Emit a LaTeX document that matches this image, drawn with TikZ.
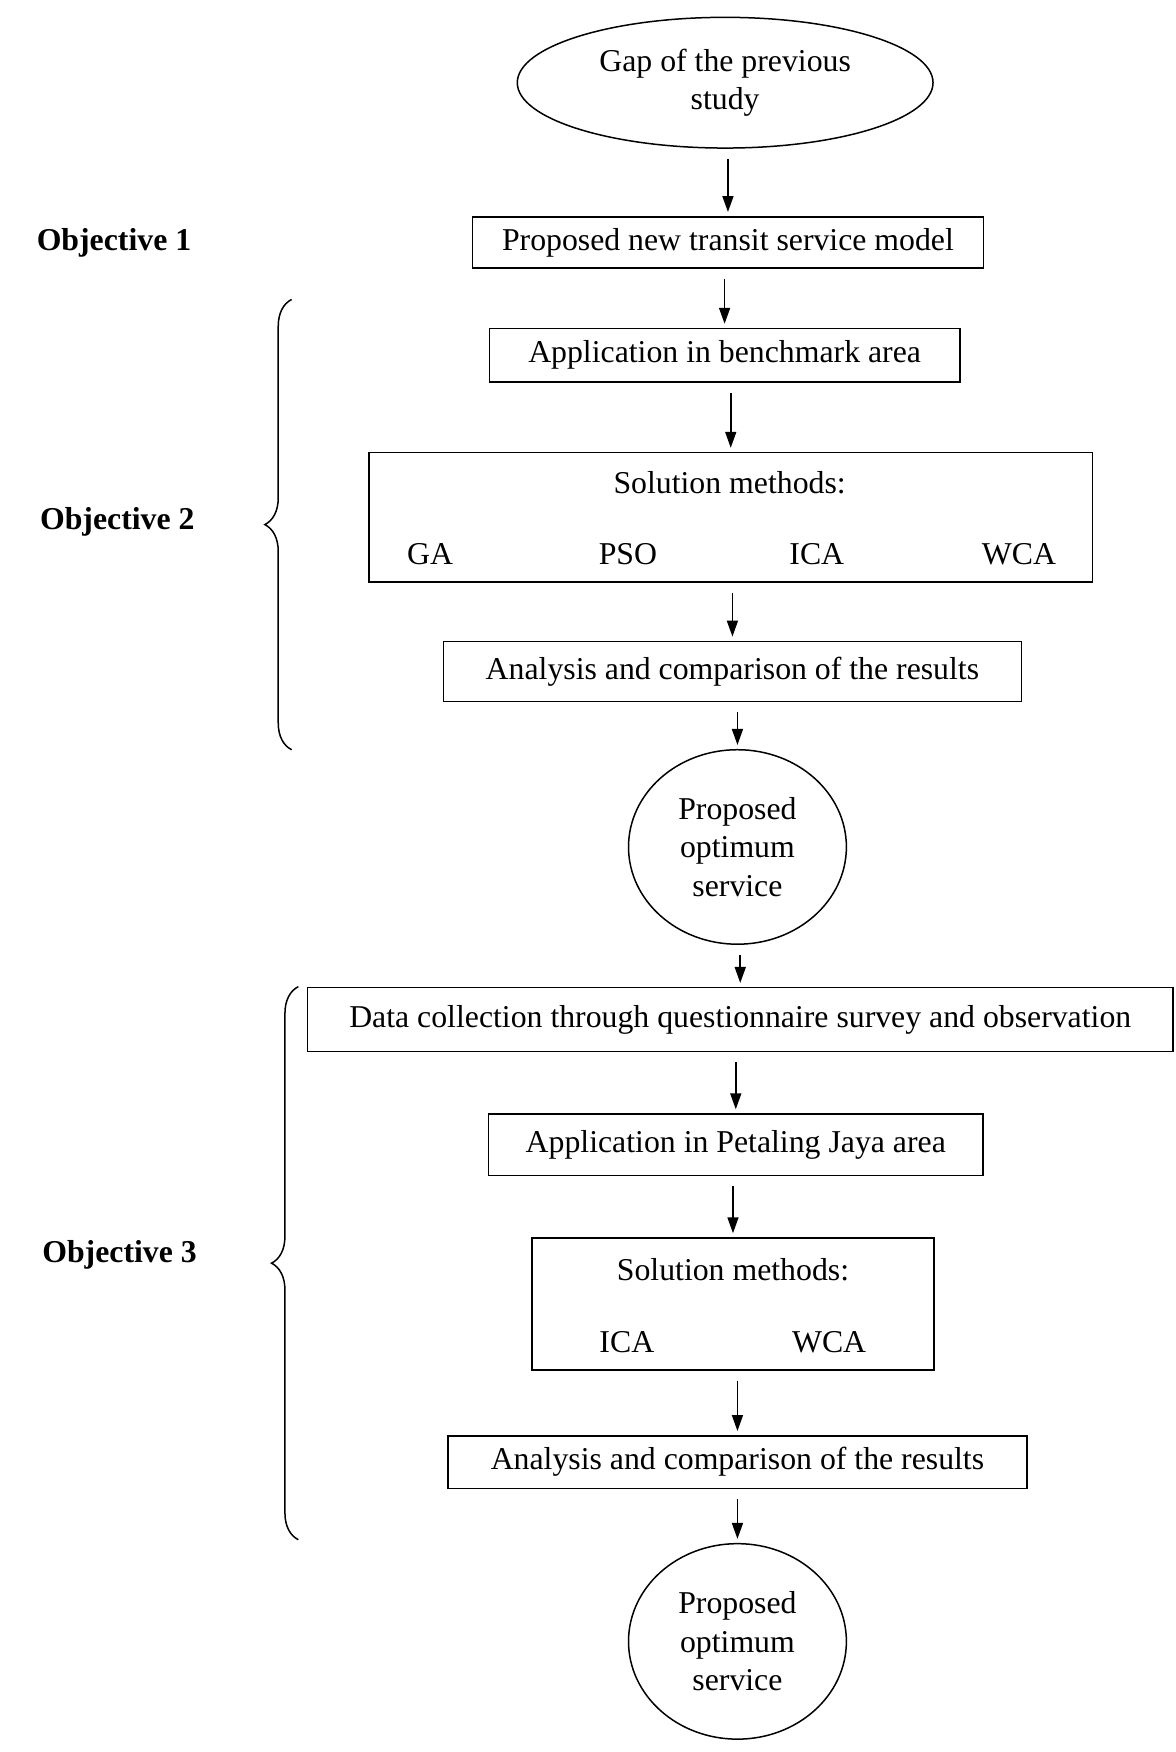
\documentclass[tikz,border=0pt]{standalone}
\usepackage{fontspec}
\setmainfont{Liberation Serif}
\usetikzlibrary{arrows.meta}
\usetikzlibrary{shapes.geometric}
\usetikzlibrary{decorations.pathreplacing}

\tikzset{
  box/.style={draw, line width=0.75pt, inner sep=0pt},
  oval/.style={draw, ellipse, line width=0.75pt, align=center, inner sep=0pt},
  arr/.style={-{Triangle[length=8pt,width=5.5pt]}, line width=0.8pt, shorten <=5pt, shorten >=2pt},
  obj/.style={font=\fontsize{15.9}{19.3}\selectfont\bfseries},
  curly/.style={decorate, decoration={brace, amplitude=13.4pt}, line width=0.75pt},
}

\begin{document}
\begin{tikzpicture}[x=0.559pt, y=-0.559pt, font=\fontsize{15.9}{19.3}\selectfont]
   \useasboundingbox (0,0) rectangle (1052,1568);

   % objective 1
   \node[oval, minimum width=208pt, minimum height=65.4pt] (gap) at (649,74) {Gap of the previous\\study};
   \node[box, minimum width=255.5pt, minimum height=25.7pt] (model) at (651.5,217) {Proposed new transit service model};
   \node[obj] (obj1) at (102,217) {Objective 1};

   % objective 2
   \node[box, minimum width=235.3pt, minimum height=26.8pt] (bench) at (648.5,318) {Application in benchmark area};
   \node[box, minimum width=362.2pt, minimum height=64.8pt] (solA) at (654,463) {};
   \node (solAt) at (653,432) {Solution methods:};
   \node (ga) at (385,496) {GA};
   \node (pso) at (562,496) {PSO};
   \node (icaA) at (731,496) {ICA};
   \node (wcaA) at (912,496) {WCA};
   \node[box, minimum width=289pt, minimum height=30.2pt] (anaA) at (655.5,601) {Analysis and comparison of the results};
   \node[oval, minimum width=109pt, minimum height=97.3pt] (optA) at (660,758) {Proposed\\optimum\\service};
   \node[obj] (obj2) at (105,467) {Objective 2};
   \draw[curly] (261,671) -- (261,268);

   % objective 3
   \node[box, minimum width=433.2pt, minimum height=31.9pt] (data) at (662.5,912.5) {Data collection through questionnaire survey and observation};
   \node[box, minimum width=247.6pt, minimum height=30.7pt] (pj) at (658.5,1024.5) {Application in Petaling Jaya area};
   \node[box, minimum width=201.2pt, minimum height=66pt] (solB) at (656,1167) {};
   \node (solBt) at (656,1136) {Solution methods:};
   \node (icaB) at (561,1201) {ICA};
   \node (wcaB) at (742,1201) {WCA};
   \node[box, minimum width=289.6pt, minimum height=26.3pt] (anaB) at (660,1308.5) {Analysis and comparison of the results};
   \node[oval, minimum width=109pt, minimum height=97.8pt] (optB) at (660,1469) {Proposed\\optimum\\service};
   \node[obj] (obj3) at (107,1123) {Objective 3};
   \draw[curly] (267,1378) -- (267,883);

   \draw[arr] (model.north |- gap.south) -- (model.north);
   \draw[arr] (bench.north |- model.south) -- (bench.north);
   \draw[arr] (solA.north |- bench.south) -- (solA.north);
   \draw[arr] (anaA.north |- solA.south) -- (anaA.north);
   \draw[arr] (optA.north |- anaA.south) -- (optA.north);
   \draw[arr] (data.north |- optA.south) -- (data.north);
   \draw[arr] (pj.north |- data.south) -- (pj.north);
   \draw[arr] (solB.north |- pj.south) -- (solB.north);
   \draw[arr] (anaB.north |- solB.south) -- (anaB.north);
   \draw[arr] (optB.north |- anaB.south) -- (optB.north);
\end{tikzpicture}
\end{document}
